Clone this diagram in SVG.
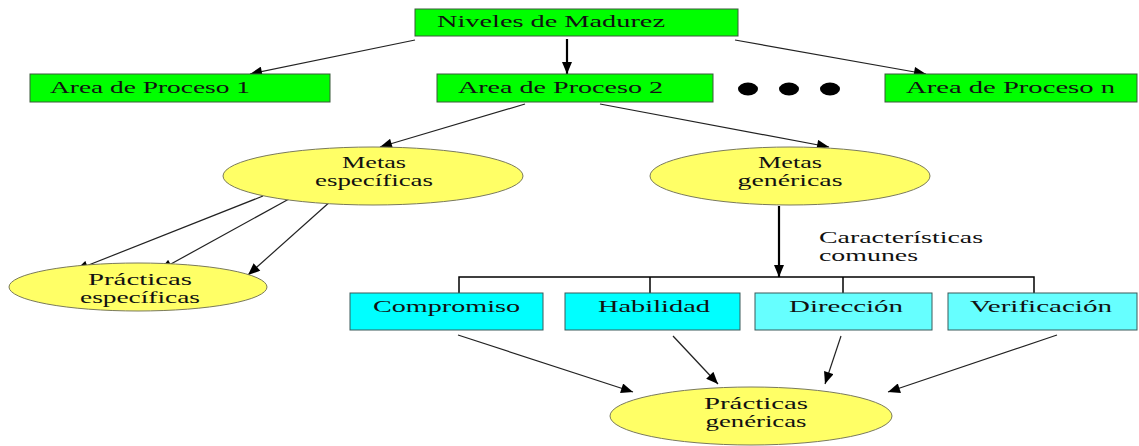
<svg xmlns="http://www.w3.org/2000/svg" width="1139" height="446" viewBox="0 0 1139 446" font-family="'Liberation Serif', 'DejaVu Serif', serif">
  <style>
    text { font-family: "Liberation Serif", "DejaVu Serif", serif; font-size: 16px; fill: #111; }
    .green { fill: #00ff00; stroke: #3a5a3a; stroke-width: 1; }
    .cyan { fill: #00ffff; stroke: #3a5a5a; stroke-width: 1; }
    .lcyan { fill: #66ffff; stroke: #3a5a5a; stroke-width: 1; }
    .yellow { fill: #ffff66; stroke: #7a7a5a; stroke-width: 1; }
    .edge { stroke: #222; stroke-width: 1.2; fill: none; marker-end: url(#arrow); }
    .bold { stroke: #000; stroke-width: 2.2; }
    .bracket { stroke: #000; stroke-width: 1.5; fill: none; }
  </style>
  <defs>
    <marker id="arrow" viewBox="0 0 12 10" refX="12" refY="5" markerWidth="13" markerHeight="10" markerUnits="userSpaceOnUse" orient="auto">
      <path d="M0,0 L12,5 L0,10 Z" fill="#000"/>
    </marker>
  </defs>
  <rect width="1139" height="446" fill="#fff"/>

  <!-- connectors -->
  <g id="connectors">
    <line class="edge" x1="415" y1="40" x2="250" y2="74"/>
    <line class="edge bold" x1="567" y1="39" x2="567" y2="74"/>
    <line class="edge" x1="735" y1="40" x2="926" y2="74"/>
    <line class="edge" x1="525" y1="104" x2="380" y2="147"/>
    <line class="edge" x1="600" y1="104" x2="829" y2="147"/>
    <line class="edge" x1="263" y1="196" x2="76" y2="270"/>
    <line class="edge" x1="289" y1="199" x2="160" y2="270"/>
    <line class="edge" x1="332" y1="200" x2="248" y2="275"/>
    <line class="edge bold" x1="779" y1="206" x2="779" y2="277"/>
    <polyline class="bracket" points="459,293 459,277 1034,277 1034,293"/>
    <line class="bracket" x1="650" y1="277" x2="650" y2="293"/>
    <line class="bracket" x1="843" y1="277" x2="843" y2="293"/>
    <line class="edge" x1="458" y1="335" x2="633" y2="392"/>
    <line class="edge" x1="673" y1="336" x2="718" y2="384"/>
    <line class="edge" x1="841" y1="336" x2="825" y2="384"/>
    <line class="edge" x1="1057" y1="335" x2="888" y2="392"/>
  </g>

  <g id="niveles">
    <rect class="green" x="415" y="9" width="323" height="27"/>
    <text x="437" y="27" textLength="228" lengthAdjust="spacingAndGlyphs">Niveles de Madurez</text>
  </g>
  <g id="area1">
    <rect class="green" x="30" y="74" width="300" height="28"/>
    <text x="50" y="93" textLength="200" lengthAdjust="spacingAndGlyphs">Area de Proceso 1</text>
  </g>
  <g id="area2">
    <rect class="green" x="437" y="74" width="276" height="28"/>
    <text x="458" y="93" textLength="205" lengthAdjust="spacingAndGlyphs">Area de Proceso 2</text>
  </g>
  <g id="dots">
    <ellipse cx="748" cy="89" rx="10" ry="6.5" fill="#000"/>
    <ellipse cx="789" cy="89" rx="10" ry="6.5" fill="#000"/>
    <ellipse cx="830" cy="89" rx="10" ry="6.5" fill="#000"/>
  </g>
  <g id="arean">
    <rect class="green" x="885" y="74" width="252" height="28"/>
    <text x="906" y="93" textLength="209" lengthAdjust="spacingAndGlyphs">Area de Proceso n</text>
  </g>

  <g id="metas-especificas">
    <ellipse class="yellow" cx="373" cy="176" rx="150" ry="29"/>
    <text x="374" y="168" text-anchor="middle" textLength="64" lengthAdjust="spacingAndGlyphs">Metas</text>
    <text x="374" y="186" text-anchor="middle" textLength="118" lengthAdjust="spacingAndGlyphs">específicas</text>
  </g>
  <g id="metas-genericas">
    <ellipse class="yellow" cx="790" cy="176" rx="140" ry="29"/>
    <text x="790" y="168" text-anchor="middle" textLength="64" lengthAdjust="spacingAndGlyphs">Metas</text>
    <text x="790" y="186" text-anchor="middle" textLength="105" lengthAdjust="spacingAndGlyphs">genéricas</text>
  </g>
  <g id="practicas-especificas">
    <ellipse class="yellow" cx="138" cy="287" rx="129" ry="24"/>
    <text x="140" y="285" text-anchor="middle" textLength="104" lengthAdjust="spacingAndGlyphs">Prácticas</text>
    <text x="140" y="303" text-anchor="middle" textLength="120" lengthAdjust="spacingAndGlyphs">específicas</text>
  </g>

  <g id="caracteristicas">
    <text x="819" y="243" textLength="164" lengthAdjust="spacingAndGlyphs">Características</text>
    <text x="819" y="261" textLength="99" lengthAdjust="spacingAndGlyphs">comunes</text>
  </g>

  <g id="compromiso">
    <rect class="cyan" x="350" y="293" width="193" height="37"/>
    <text x="373" y="312" textLength="147" lengthAdjust="spacingAndGlyphs">Compromiso</text>
  </g>
  <g id="habilidad">
    <rect class="cyan" x="565" y="293" width="175" height="37"/>
    <text x="598" y="312" textLength="112" lengthAdjust="spacingAndGlyphs">Habilidad</text>
  </g>
  <g id="direccion">
    <rect class="lcyan" x="755" y="293" width="177" height="37"/>
    <text x="789" y="312" textLength="114" lengthAdjust="spacingAndGlyphs">Dirección</text>
  </g>
  <g id="verificacion">
    <rect class="lcyan" x="948" y="293" width="189" height="37"/>
    <text x="970" y="312" textLength="142" lengthAdjust="spacingAndGlyphs">Verificación</text>
  </g>

  <g id="practicas-genericas">
    <ellipse class="yellow" cx="751" cy="416" rx="141" ry="29"/>
    <text x="756" y="409" text-anchor="middle" textLength="104" lengthAdjust="spacingAndGlyphs">Prácticas</text>
    <text x="756" y="427" text-anchor="middle" textLength="101" lengthAdjust="spacingAndGlyphs">genéricas</text>
  </g>
</svg>
